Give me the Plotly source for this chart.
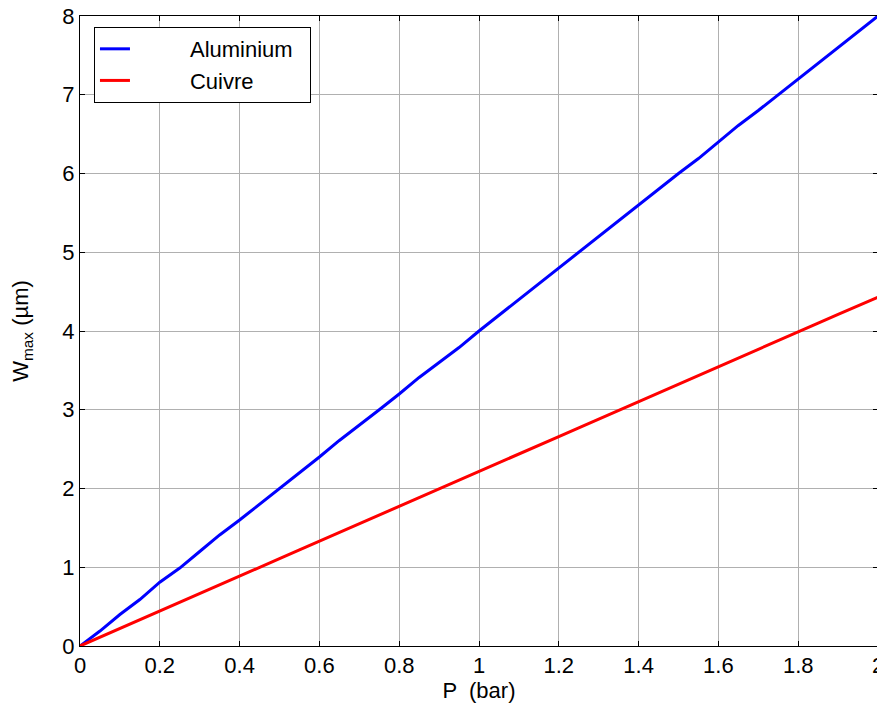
import plotly.graph_objects as go

P = [i * 0.05 for i in range(41)]
aluminium = [0, 0.19, 0.40, 0.59, 0.81, 0.99, 1.20, 1.41, 1.60, 1.80, 2.00, 2.19, 2.40, 2.61, 2.80,
             3.00, 3.20, 3.41, 3.60, 3.79, 4.00, 4.20, 4.40, 4.61, 4.80, 5.00, 5.20, 5.41, 5.60,
             5.80, 6.00, 6.19, 6.40, 6.61, 6.80, 7.00, 7.20, 7.41, 7.60, 7.80, 8.00]
cuivre = [0, 0.11, 0.23, 0.33, 0.44, 0.55, 0.67, 0.78, 0.89, 0.99, 1.11, 1.22, 1.33, 1.44, 1.55,
          1.66, 1.77, 1.88, 2.00, 2.10, 2.22, 2.32, 2.44, 2.55, 2.66, 2.77, 2.88, 2.99, 3.10,
          3.21, 3.32, 3.43, 3.54, 3.65, 3.77, 3.88, 3.99, 4.10, 4.21, 4.32, 4.43]
x_ticks = [0, 0.2, 0.4, 0.6, 0.8, 1, 1.2, 1.4, 1.6, 1.8, 2]
x_tick_labels = ["0", "0.2", "0.4", "0.6", "0.8", "1", "1.2", "1.4", "1.6", "1.8", "2"]
y_ticks = [0, 1, 2, 3, 4, 5, 6, 7, 8]
series_names = ["Aluminium", "Cuivre"]

font_family = "Liberation Sans, Arial, sans-serif"
FS = 22
lead = "\u00a0" * 9
trail = "\u00a0" * 2

fig = go.Figure()
fig.add_trace(go.Scatter(x=P, y=aluminium, mode="lines", name=lead + series_names[0] + trail,
                         line=dict(color="#0000ff", width=3)))
fig.add_trace(go.Scatter(x=P, y=cuivre, mode="lines", name=lead + series_names[1],
                         line=dict(color="#ff0000", width=3)))

axis_common = dict(showline=True, linecolor="black", linewidth=1, mirror="ticks",
                   ticks="inside", ticklen=5, tickcolor="black", automargin=False,
                   ticklabeloverflow="allow",
                   showgrid=True, gridcolor="#b0b0b0", gridwidth=1, zeroline=False,
                   tickfont=dict(family=font_family, size=FS, color="black"))

fig.update_xaxes(range=[0, 2], tickvals=x_ticks, ticktext=x_tick_labels,
                 title=dict(text="P  (bar)", font=dict(family=font_family, size=FS, color="black"),
                            standoff=4),
                 **axis_common)
fig.update_yaxes(range=[0, 8], tickvals=y_ticks,
                 title=dict(text="W<sub>max</sub> (µm)",
                            font=dict(family=font_family, size=FS, color="black"), standoff=28),
                 **axis_common)

# page body has an 8px default margin, so the figure is sized to fit the 885x713 window
fig.update_layout(
    width=877, height=705,
    margin=dict(l=72, r=7, t=8, b=67),
    paper_bgcolor="white", plot_bgcolor="white",
    font=dict(family=font_family, color="black"),
    legend=dict(x=0.0175, y=0.9825, xanchor="left", yanchor="top",
                bgcolor="white", bordercolor="black", borderwidth=1,
                font=dict(family=font_family, size=FS, color="black"),
                tracegroupgap=4),
    showlegend=True,
)

fig.write_html("out.html")
